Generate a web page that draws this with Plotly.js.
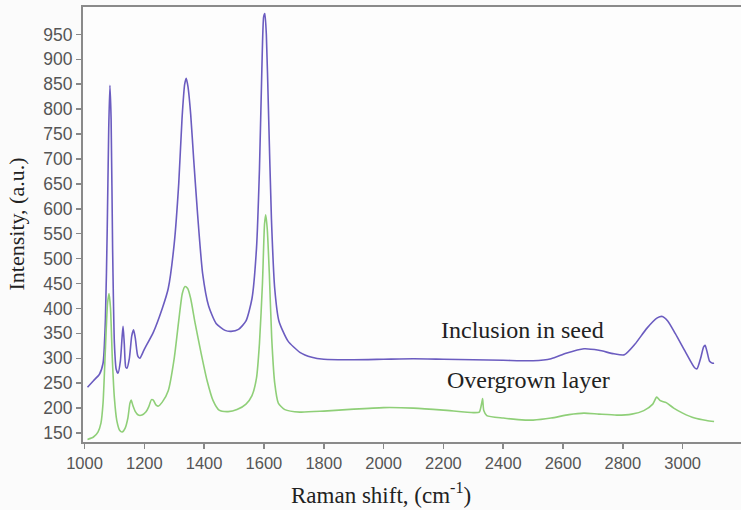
<!DOCTYPE html>
<html>
<head>
<meta charset="utf-8">
<script src="https://cdn.plot.ly/plotly-3.0.1.min.js"></script>
<style>html,body{margin:0;padding:0;background:#fbfbfb;}</style>
</head>
<body>
<div id="chart" style="width:741px;height:510px;"></div>
<script>
// Inclusion in seed (purple)
const seedX = [1010,1030,1050,1062,1070,1076,1081,1085,1089,1094,1100,1106,1112,1120,1126,1129,1133,1138,1142,1150,1158,1164,1170,1178,1185,1200,1230,1260,1280,1300,1315,1326,1335,1340,1346,1355,1365,1378,1395,1415,1440,1470,1490,1515,1540,1560,1575,1585,1593,1599,1603,1608,1615,1625,1636,1650,1680,1720,1760,1800,1900,2000,2100,2200,2300,2400,2500,2560,2610,2670,2720,2770,2805,2840,2880,2915,2932,2950,2975,3010,3040,3048,3060,3070,3075,3082,3090,3100,3105];
const seedY = [242,255,268,290,380,560,760,848,780,520,330,278,270,295,345,364,330,282,280,300,345,357,340,305,300,318,352,400,440,530,650,780,850,862,845,790,700,590,470,405,370,356,354,358,375,420,520,680,880,985,992,950,800,580,440,375,335,312,302,298,297,298,299,298,297,296,295,299,310,319,316,309,307,328,360,381,384,375,350,312,281,279,300,323,326,312,294,290,290];

// Overgrown layer (green)
const layerX = [1010,1030,1045,1055,1062,1070,1077,1082,1087,1093,1100,1108,1118,1126,1136,1145,1152,1156,1162,1170,1180,1192,1205,1215,1224,1230,1238,1246,1260,1280,1300,1315,1327,1336,1345,1355,1370,1390,1410,1430,1450,1480,1510,1540,1560,1575,1585,1595,1602,1606,1611,1618,1626,1636,1648,1670,1720,1800,1900,2000,2100,2200,2300,2320,2328,2331,2335,2345,2400,2450,2500,2560,2620,2670,2720,2780,2830,2870,2900,2913,2925,2945,2970,3000,3040,3080,3105];
const layerY = [137,142,152,170,210,320,410,430,400,300,220,175,155,152,160,180,210,216,205,193,186,186,192,203,217,216,207,204,212,235,300,375,430,444,440,420,370,310,255,215,196,193,197,208,225,260,330,450,570,588,560,470,340,250,210,197,192,194,198,201,200,196,191,192,210,219,195,185,180,177,176,180,187,190,188,186,188,195,208,222,215,211,200,190,180,175,173];

const xTicks = [1000,1200,1400,1600,1800,2000,2200,2400,2600,2800,3000];
const yTicks = [150,200,250,300,350,400,450,500,550,600,650,700,750,800,850,900,950];

const seriesNames = ["Inclusion in seed", "Overgrown layer"];

const serif = 'Liberation Serif, Times New Roman, serif';
const sans = 'Liberation Sans, Arial, sans-serif';

const traces = [
  {x: seedX, y: seedY, mode: 'lines', name: seriesNames[0],
   line: {color: '#6b5cc0', width: 1.6, shape: 'spline', smoothing: 0.6}},
  {x: layerX, y: layerY, mode: 'lines', name: seriesNames[1],
   line: {color: '#8fcf78', width: 1.6, shape: 'spline', smoothing: 0.6}}
];

const layout = {
  width: 741, height: 510,
  margin: {l: 83, r: 0, t: 7, b: 68},
  paper_bgcolor: '#fbfbfb',
  plot_bgcolor: '#fdfdfd',
  showlegend: false,
  font: {family: sans, size: 17, color: '#555'},
  xaxis: {
    range: [995, 3195],
    tickvals: xTicks,
    ticktext: xTicks.map(String),
    ticks: 'outside', ticklen: 5, tickwidth: 1.5, tickcolor: '#888',
    showline: true, linecolor: '#8a8a8a', linewidth: 2, mirror: true,
    showgrid: false, zeroline: false,
    tickfont: {family: sans, size: 16.5, color: '#555'}
  },
  yaxis: {
    range: [132, 1005],
    tickvals: yTicks,
    ticktext: yTicks.map(String),
    ticks: 'outside', ticklen: 5, tickwidth: 1.5, tickcolor: '#888',
    showline: true, linecolor: '#8a8a8a', linewidth: 2,
    showgrid: false, zeroline: false,
    tickfont: {family: sans, size: 17.5, color: '#555'}
  },
  annotations: [
    {xref: 'paper', yref: 'paper', x: (16 - 83) / (741 - 83), y: 0.5,
     xanchor: 'center', yanchor: 'middle', textangle: -90, showarrow: false,
     text: 'Intensity, (a.u.)',
     font: {family: serif, size: 22, color: '#222'}},
    {xref: 'paper', yref: 'paper', x: (381 - 83) / (741 - 83), y: -0.08,
     xanchor: 'center', yanchor: 'top', showarrow: false,
     text: 'Raman shift, (cm<sup>-1</sup>)',
     font: {family: serif, size: 23, color: '#222'}},
    {xref: 'x', yref: 'y', x: 2464, y: 356, showarrow: false,
     xanchor: 'center', yanchor: 'middle', text: seriesNames[0],
     font: {family: serif, size: 24, color: '#222'}},
    {xref: 'x', yref: 'y', x: 2484, y: 256, showarrow: false,
     xanchor: 'center', yanchor: 'middle', text: seriesNames[1],
     font: {family: serif, size: 24, color: '#222'}}
  ]
};

Plotly.newPlot('chart', traces, layout, {displayModeBar: false, staticPlot: true});
</script>
</body>
</html>
